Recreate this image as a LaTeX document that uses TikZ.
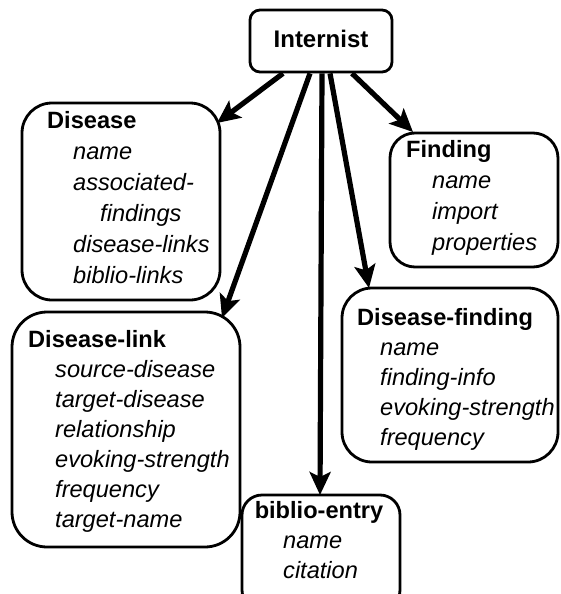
\documentclass[tikz,border=0pt]{standalone}
\usepackage{fontspec}
\setmainfont{Liberation Sans}
\usetikzlibrary{arrows.meta}
\begin{document}
\begin{tikzpicture}[x=1pt,y=-1pt,
  box/.style={draw,line width=2.8pt,rectangle,inner sep=0pt},
  ttl/.style={anchor=base west,inner sep=0pt,font=\fontsize{23.6}{24}\selectfont\bfseries},
  att/.style={anchor=base west,inner sep=0pt,font=\fontsize{23.6}{24}\selectfont\itshape},
  arr/.style={line width=5.2pt,-{Stealth[length=23pt,width=21pt,inset=5pt]}}]
\useasboundingbox (0,0) rectangle (561,594);
\clip (0,0) rectangle (561,594);
% boxes
\node[box,rounded corners=10pt,minimum width=142pt,minimum height=62pt] (internist) at (321,41) {};
\node[box,rounded corners=30pt,minimum width=198pt,minimum height=197pt] (disease) at (121,201.5) {};
\node[box,rounded corners=25pt,minimum width=168pt,minimum height=134pt] (finding) at (474,200) {};
\node[box,rounded corners=35pt,minimum width=228pt,minimum height=235pt] (dlink) at (126,429.5) {};
\node[box,rounded corners=30pt,minimum width=216pt,minimum height=174pt] (dfinding) at (450,375) {};
\node[box,rounded corners=20pt,minimum width=158pt,minimum height=115pt] (biblio) at (321,552.5) {};
% texts
\node[anchor=base,inner sep=0pt,font=\fontsize{24}{24}\selectfont\bfseries] (tInternist) at (321,48) {Internist};
\node[ttl] (tDisease) at (47,128) {Disease};
\node[att] (d1) at (73,159) {name};
\node[att] (d2) at (73,190) {associated-};
\node[att] (d3) at (100,221) {findings};
\node[att] (d4) at (73,252) {disease-links};
\node[att] (d5) at (73,283) {biblio-links};
\node[ttl] (tFinding) at (406,157) {Finding};
\node[att] (f1) at (432,188) {name};
\node[att] (f2) at (432,219) {import};
\node[att] (f3) at (432,250) {properties};
\node[ttl] (tDlink) at (28,347) {Disease-link};
\node[att] (l1) at (55,377) {source-disease};
\node[att] (l2) at (55,407) {target-disease};
\node[att] (l3) at (55,437) {relationship};
\node[att] (l4) at (55,467) {evoking-strength};
\node[att] (l5) at (55,497) {frequency};
\node[att] (l6) at (55,527) {target-name};
\node[ttl] (tDfinding) at (357,325) {Disease-finding};
\node[att] (g1) at (380,355) {name};
\node[att] (g2) at (380,385) {finding-info};
\node[att] (g3) at (380,415) {evoking-strength};
\node[att] (g4) at (380,445) {frequency};
\node[anchor=base,inner sep=0pt,font=\fontsize{23.6}{24}\selectfont\bfseries] (tBiblio) at (319,518) {biblio-entry};
\node[att] (b1) at (283,548) {name};
\node[att] (b2) at (283,578) {citation};
% arrow tips
\coordinate (pDisease) at (217,123);
\coordinate (pDlink) at (222,318);
\coordinate (pBiblio) at (320,495);
\coordinate (pDfinding) at (369,288);
\coordinate (pFinding) at (413,132);
\draw[arr] ([xshift=-38pt]internist.south) -- (pDisease);
\draw[arr] ([xshift=-11pt]internist.south) -- (pDlink);
\draw[arr] ([xshift=1pt]internist.south) -- (pBiblio);
\draw[arr] ([xshift=9pt]internist.south) -- (pDfinding);
\draw[arr] ([xshift=31pt]internist.south) -- (pFinding);
\end{tikzpicture}
\end{document}
